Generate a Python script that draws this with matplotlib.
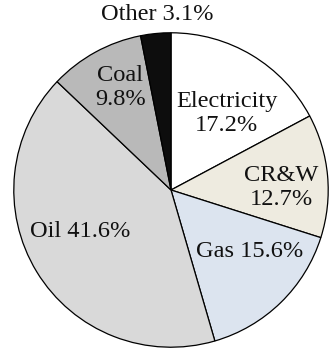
import matplotlib.pyplot as plt

# energy shares, clockwise from 12 o'clock
labels = ["Electricity", "CR&W", "Gas", "Oil", "Coal", "Other"]
shares = [17.2, 12.7, 15.6, 41.6, 9.8, 3.1]
colors = ["#ffffff", "#eeebe0", "#dce4ef", "#d9d9d9", "#b9b9b9", "#0d0d0d"]

# label text and where it sits (axes data units, pie radius = 1)
texts = ["Electricity\n17.2%", "CR&W\n12.7%", "Gas 15.6%", "Oil 41.6%", "Coal\n9.8%", "Other 3.1%"]
text_xy = [(0.354, 0.487), (0.703, 0.016), (0.50, -0.392), (-0.576, -0.266), (-0.323, 0.652), (-0.089, 1.114)]

plt.rcParams["font.family"] = ["Liberation Serif", "DejaVu Serif"]

fig = plt.figure(figsize=(3.32, 3.55), dpi=100)
ax = fig.add_axes([13 / 332, 7 / 355, 316 / 332, 316 / 355])

ax.pie(
    shares,
    colors=colors,
    startangle=90,
    counterclock=False,
    radius=1.0,
    wedgeprops=dict(edgecolor="black", linewidth=0.9),
)
ax.set_xlim(-1.005, 1.005)
ax.set_ylim(-1.005, 1.005)
ax.set_aspect("auto")

for txt, (x, y) in zip(texts, text_xy):
    ax.text(x, y, txt, ha="center", va="center", fontsize=17.6, linespacing=1.22, color="#111111")

ax.axis("off")
fig.savefig("out.png", dpi=100)
